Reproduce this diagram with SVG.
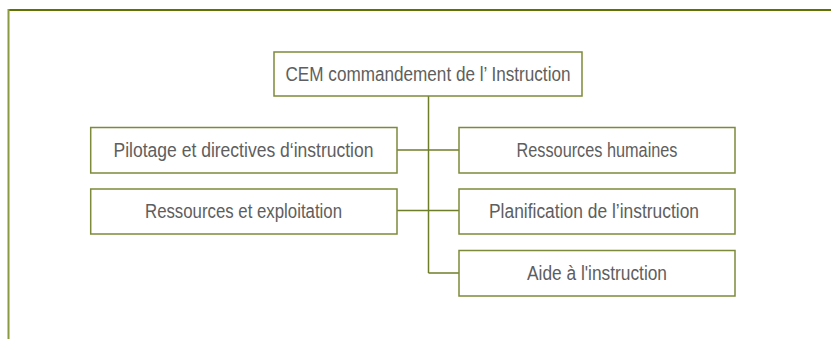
<svg xmlns="http://www.w3.org/2000/svg" width="831" height="339" viewBox="0 0 831 339">
<style>
.box{fill:#fff;stroke:#7d8a3a;stroke-width:1.5}
.lbl{font-family:"Liberation Sans",Arial,sans-serif;font-size:20px;fill:#5e5e5e;text-anchor:middle}
.con{stroke:#6e7d28;stroke-width:1.5;fill:none}
</style>
<rect width="831" height="339" fill="#fff"/>
<g id="frame">
<line x1="8.5" y1="10" x2="831" y2="10" stroke="#5f7300" stroke-width="2"/>
<line x1="8.5" y1="9" x2="8.5" y2="339" stroke="#8a9a40" stroke-width="2"/>
</g>
<g id="connectors">
<line class="con" x1="428.5" y1="96" x2="428.5" y2="273"/>
<line class="con" x1="397" y1="150" x2="459" y2="150"/>
<line class="con" x1="397" y1="210.5" x2="459" y2="210.5"/>
<line class="con" x1="428.5" y1="273" x2="459" y2="273"/>
</g>
<g id="n-cem">
<rect class="box" x="274" y="52" width="308" height="44"/>
<text class="lbl" x="428" y="81" textLength="285" lengthAdjust="spacingAndGlyphs">CEM commandement de l’ Instruction</text>
</g>
<g id="n-pilotage">
<rect class="box" x="90.7" y="127.5" width="306.3" height="45.5"/>
<text class="lbl" x="243.5" y="157" textLength="260" lengthAdjust="spacingAndGlyphs">Pilotage et directives d‘instruction</text>
</g>
<g id="n-ressexp">
<rect class="box" x="90.7" y="189" width="306.3" height="45"/>
<text class="lbl" x="243.5" y="218" textLength="197" lengthAdjust="spacingAndGlyphs">Ressources et exploitation</text>
</g>
<g id="n-rh">
<rect class="box" x="459" y="127.5" width="276" height="45.5"/>
<text class="lbl" x="597" y="157" textLength="161" lengthAdjust="spacingAndGlyphs">Ressources humaines</text>
</g>
<g id="n-planif">
<rect class="box" x="459" y="189" width="276" height="45"/>
<text class="lbl" x="594" y="218" textLength="210" lengthAdjust="spacingAndGlyphs">Planification de l’instruction</text>
</g>
<g id="n-aide">
<rect class="box" x="459" y="250.5" width="276" height="45.5"/>
<text class="lbl" x="597" y="280" textLength="140" lengthAdjust="spacingAndGlyphs">Aide à l'instruction</text>
</g>
</svg>
